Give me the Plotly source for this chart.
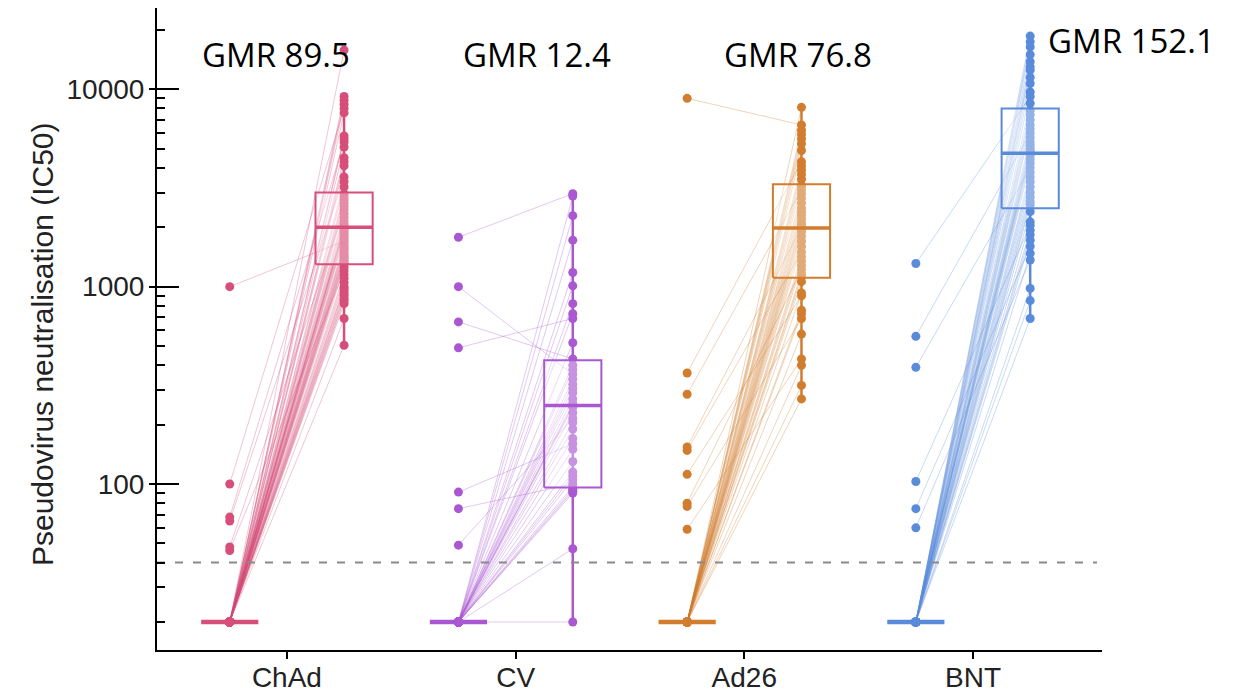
import plotly.graph_objects as go

categories = ["ChAd", "CV", "Ad26", "BNT"]
colors = ["#D64F7A", "#A958D1", "#D27D2E", "#5A8BDB"]
gmr_labels = ["GMR 89.5", "GMR 12.4", "GMR 76.8", "GMR 152.1"]
y_title = "Pseudovirus neutralisation (IC50)"

post_chad = [15800, 9200, 8800, 8400, 8000, 7600, 5800, 5600, 5400, 5100, 4500, 4300, 4100, 3600, 3400, 3200,
             2950, 2850, 2750, 2650, 2550, 2450, 2350, 2250, 2150, 2080, 2020, 2000, 1980, 1950, 1900,
             1850, 1800, 1750, 1700, 1650, 1600, 1560, 1520, 1480, 1450, 1420, 1390, 1360, 1330, 1310,
             1250, 1200, 1150, 1100, 1050, 1000, 980, 950, 920, 900, 870, 850, 820, 690, 505]
pre_chad = [20, 20, 20, 20, 100, 20, 20, 20, 68, 20, 20, 20, 20, 65, 20, 20,
            20, 20, 20, 20, 20, 48, 20, 20, 20, 20, 20, 20, 20, 20, 20,
            20, 20, 20, 1000, 20, 20, 20, 20, 20, 20, 20, 20, 20, 20, 20,
            20, 46, 20, 20, 20, 20, 20, 20, 20, 20, 20, 20, 20, 20, 20]

post_cv = [2960, 2880, 2290, 1720, 1180, 1010, 820, 730, 690, 520, 430,
           400, 380, 360, 340, 320, 305, 290, 270, 255, 250, 245, 230,
           215, 205, 190, 170, 160, 150, 130, 115, 110, 105, 100, 97,
           94, 92, 90, 47, 20]
pre_cv = [1780, 20, 20, 20, 20, 20, 20, 20, 490, 20, 663,
          20, 20, 1000, 20, 20, 20, 20, 20, 20, 20, 20, 20,
          49, 20, 20, 20, 91, 20, 20, 20, 20, 20, 75, 20,
          20, 20, 20, 20, 20]

post_ad26 = [8100, 6600, 6200, 5900, 5600, 5300, 4900, 4300, 4100, 3900, 3700, 3500,
             3250, 3100, 2950, 2800, 2650, 2500, 2400, 2300, 2200, 2100, 2050, 2000,
             1960, 1900, 1800, 1700, 1600, 1500, 1420, 1350, 1280, 1220, 1160, 1120,
             1060, 930, 900, 760, 730, 690, 575, 430, 400, 316, 270]
pre_ad26 = [20, 9000, 20, 20, 20, 20, 20, 365, 20, 20, 20, 20,
            20, 285, 20, 20, 20, 20, 20, 20, 20, 20, 20, 154,
            20, 20, 20, 20, 20, 148, 20, 20, 20, 80, 20, 20,
            20, 20, 112, 20, 20, 77, 20, 59, 20, 20, 20]

post_bnt = [18600, 17400, 16400, 15000, 13800, 13000, 12500, 11500, 10700, 9700, 9200, 8500,
            7800, 7400, 7000, 6600, 6300, 6000, 5700, 5400, 5200, 5000, 4850, 4740,
            4600, 4400, 4200, 4000, 3800, 3600, 3400, 3200, 3000, 2850, 2700, 2600,
            2400, 2130, 2050, 1930, 1830, 1720, 1600, 1475, 1365, 980, 850, 690]
pre_bnt = [20, 20, 20, 20, 20, 20, 20, 20, 20, 20, 1310, 20,
           20, 20, 20, 20, 20, 560, 20, 20, 20, 20, 20, 20,
           20, 20, 20, 390, 20, 20, 20, 20, 20, 20, 20, 20,
           20, 20, 103, 20, 20, 20, 75, 20, 60, 20, 20, 20]

# box statistics of the post-vaccination values
box_q1 = [1300, 96, 1110, 2500]
box_median = [2000, 250, 1980, 4740]
box_q3 = [3000, 424, 3300, 8000]
whisker_low = [505, 20, 270, 690]
whisker_high = [9200, 2960, 8100, 18600]
pre_box_level = [20, 20, 20, 20]

limit_of_detection = 40

major_ticks = [100, 1000, 10000]
minor_ticks = [20, 30, 40, 50, 60, 70, 80, 90,
               200, 300, 400, 500, 600, 700, 800, 900,
               2000, 3000, 4000, 5000, 6000, 7000, 8000, 9000, 20000]

pre_all = [pre_chad, pre_cv, pre_ad26, pre_bnt]
post_all = [post_chad, post_cv, post_ad26, post_bnt]

OFF = 0.25
HALF = 0.125
XR = [-0.568, 3.564]
YR = [1.159, 4.412]


def rgba(hexc, a):
    h = hexc.lstrip("#")
    return "rgba(%d,%d,%d,%.3f)" % (int(h[0:2], 16), int(h[2:4], 16), int(h[4:6], 16), a)


fig = go.Figure()

for i, cat in enumerate(categories):
    c = colors[i]
    px, qx = i - OFF, i + OFF
    pre, post = pre_all[i], post_all[i]
    lx, ly = [], []
    for a, b in zip(pre, post):
        lx += [px, qx, None]
        ly += [a, b, None]
    fig.add_trace(go.Scatter(x=lx, y=ly, mode="lines",
                             line=dict(color=rgba(c, 0.33), width=1),
                             hoverinfo="skip", showlegend=False))
    # whisker
    fig.add_trace(go.Scatter(x=[qx, qx], y=[whisker_low[i], whisker_high[i]], mode="lines",
                             line=dict(color=c, width=2.5), hoverinfo="skip", showlegend=False))
    # collapsed pre box
    fig.add_trace(go.Scatter(x=[px - HALF, px + HALF], y=[pre_box_level[i]] * 2, mode="lines",
                             line=dict(color=c, width=4.5), hoverinfo="skip", showlegend=False))
    # points
    fig.add_trace(go.Scatter(x=[px] * len(pre), y=pre, mode="markers",
                             marker=dict(color=c, size=9), name=cat + " pre", showlegend=False))
    fig.add_trace(go.Scatter(x=[qx] * len(post), y=post, mode="markers",
                             marker=dict(color=c, size=9), name=cat + " post", showlegend=False))
    # box
    fig.add_trace(go.Scatter(x=[qx - HALF, qx + HALF, qx + HALF, qx - HALF, qx - HALF],
                             y=[box_q1[i], box_q1[i], box_q3[i], box_q3[i], box_q1[i]],
                             mode="lines", fill="toself", fillcolor="rgba(255,255,255,0.35)",
                             line=dict(color=c, width=2), hoverinfo="skip", showlegend=False))
    fig.add_trace(go.Scatter(x=[qx - HALF, qx + HALF], y=[box_median[i]] * 2, mode="lines",
                             line=dict(color=c, width=3.5), hoverinfo="skip", showlegend=False))

# limit of detection
fig.add_trace(go.Scatter(x=[XR[0], 3.542], y=[limit_of_detection] * 2, mode="lines",
                         line=dict(color="#8a8a8a", width=2, dash="8px,10px"),
                         hoverinfo="skip", showlegend=False))
# dummy trace for the outer-tick overlay axis
fig.add_trace(go.Scatter(x=[None], y=[None], yaxis="y2", showlegend=False, hoverinfo="skip"))

# annotation centres in paper coordinates
gmr_x = [0.126, 0.402, 0.678, 1.031]
gmr_y = [0.927, 0.927, 0.927, 0.950]
for i, t in enumerate(gmr_labels):
    fig.add_annotation(x=gmr_x[i], y=gmr_y[i], xref="paper", yref="paper", text=t,
                       showarrow=False, xanchor="center", yanchor="middle",
                       font=dict(family="Open Sans", size=33, color="black"))

fig.add_annotation(x=-0.1217, y=0.4766, xref="paper", yref="paper", text=y_title,
                   textangle=-90, showarrow=False, xanchor="center", yanchor="middle",
                   font=dict(family="Liberation Sans, Arial", size=30, color="#222"))

axis_font = dict(family="Liberation Sans, Arial", size=28, color="#222")

fig.update_layout(
    width=1237, height=695,
    margin=dict(l=149, r=143, t=0, b=53, autoexpand=False),
    plot_bgcolor="white", paper_bgcolor="white",
    showlegend=False,
    xaxis=dict(range=XR, tickvals=[0, 1, 2, 3], ticktext=categories,
               ticks="outside", ticklen=7, tickwidth=2, tickcolor="black",
               ticklabelstandoff=-6,
               showline=True, linecolor="black", linewidth=2, automargin=False,
               showgrid=False, zeroline=False, tickfont=axis_font),
    yaxis=dict(type="log", range=YR, tickvals=major_ticks,
               ticktext=[str(v) for v in major_ticks],
               ticks="inside", ticklen=22, tickwidth=2, tickcolor="black",
               ticklabelstandoff=5, automargin=False,
               minor=dict(tickvals=minor_ticks, ticks="inside", ticklen=8,
                          tickwidth=1.5, tickcolor="black", showgrid=False),
               showline=True, linecolor="black", linewidth=2,
               showgrid=False, zeroline=False, tickfont=axis_font),
    yaxis2=dict(type="log", range=YR, overlaying="y", anchor="x", side="left",
                tickvals=major_ticks, ticks="outside", ticklen=7, tickwidth=2,
                tickcolor="black", showticklabels=False, showgrid=False, automargin=False,
                showline=False, zeroline=False),
)

fig.write_html("out.html")
